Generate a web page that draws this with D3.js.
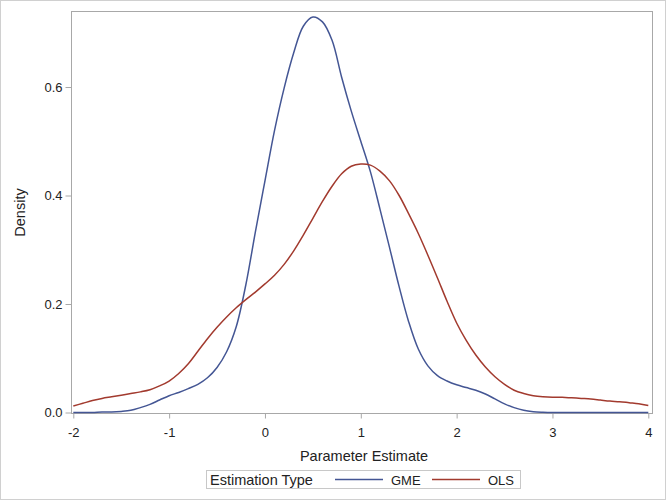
<!DOCTYPE html>
<html>
<head>
<meta charset="utf-8">
<script src="https://cdn.jsdelivr.net/npm/d3@7"></script>
<style>
  html, body { margin: 0; padding: 0; background: #fff; }
  svg { display: block; font-family: "Liberation Sans", Arial, sans-serif; }
</style>
</head>
<body>
<svg id="chart" width="666" height="500"></svg>
<script>
// Parameter estimate grid
const xGrid = [-2.0,-1.9,-1.8,-1.7,-1.6,-1.5,-1.4,-1.3,-1.2,-1.1,-1.0,-0.9,-0.8,-0.7,-0.6,-0.5,-0.4,-0.3,-0.2,-0.1,
  0.0,0.1,0.2,0.3,0.4,0.5,0.6,0.7,0.8,0.9,1.0,1.1,1.2,1.3,1.4,1.5,1.6,1.7,1.8,1.9,
  2.0,2.1,2.2,2.3,2.4,2.5,2.6,2.7,2.8,2.9,3.0,3.1,3.2,3.3,3.4,3.5,3.6,3.7,3.8,3.9,4.0];

// Density estimates
const gmeDensity = [0.000,0.000,0.000,0.001,0.001,0.002,0.004,0.009,0.015,0.023,0.031,0.037,0.044,0.052,0.064,0.083,0.112,0.158,0.235,0.333,
  0.427,0.520,0.598,0.663,0.712,0.729,0.720,0.686,0.618,0.556,0.500,0.444,0.375,0.304,0.232,0.167,0.117,0.086,0.068,0.058,
  0.051,0.046,0.041,0.034,0.025,0.016,0.009,0.004,0.0015,0.0005,0.000,0.000,0.000,0.000,0.000,0.000,0.000,0.000,0.000,0.000,0.000];

const olsDensity = [0.012,0.017,0.022,0.026,0.029,0.032,0.035,0.038,0.042,0.049,0.058,0.072,0.090,0.113,0.136,0.157,0.176,0.193,0.208,0.222,
  0.237,0.253,0.273,0.298,0.327,0.358,0.389,0.417,0.440,0.454,0.458,0.456,0.445,0.427,0.400,0.366,0.330,0.290,0.248,0.205,
  0.165,0.133,0.106,0.084,0.066,0.052,0.041,0.035,0.031,0.029,0.028,0.028,0.027,0.026,0.025,0.023,0.021,0.020,0.018,0.016,0.013];

const seriesNames = ["GME", "OLS"];
const seriesColors = ["#445694", "#A23A2E"];
const xTicks = [-2, -1, 0, 1, 2, 3, 4];
const yTicks = [0.0, 0.2, 0.4, 0.6];

const svg = d3.select("#chart");

// outer border
svg.append("rect").attr("x", 0.5).attr("y", 0.5).attr("width", 665).attr("height", 499)
  .attr("fill", "#fff").attr("stroke", "#d0d0d0");

const x = d3.scaleLinear().domain([-2, 4]).range([73.3, 648.3]);
const y = d3.scaleLinear().domain([0, 0.6]).range([412.5, 87]);

const frame = {x0: 71.5, x1: 652.5, y0: 11.5, y1: 413.5};

// plot frame
svg.append("rect").attr("x", frame.x0).attr("y", frame.y0)
  .attr("width", frame.x1 - frame.x0).attr("height", frame.y1 - frame.y0)
  .attr("fill", "none").attr("stroke", "#a8a8a8").attr("stroke-width", 1);

// x axis
const xAxis = svg.append("g").attr("transform", `translate(0,${frame.y1})`)
  .call(d3.axisBottom(x).tickValues(xTicks).tickFormat(d => String(d)).tickSize(5).tickPadding(9));
xAxis.select(".domain").remove();
xAxis.selectAll(".tick line").attr("stroke", "#a8a8a8");
xAxis.selectAll(".tick text").attr("font-size", "13px").attr("fill", "#222")
  .attr("font-family", "'Liberation Sans', Arial, sans-serif");

// y axis
const yAxis = svg.append("g").attr("transform", `translate(${frame.x0},0)`)
  .call(d3.axisLeft(y).tickValues(yTicks).tickFormat(d3.format(".1f")).tickSize(6).tickPadding(3));
yAxis.select(".domain").remove();
yAxis.selectAll(".tick line").attr("stroke", "#a8a8a8");
yAxis.selectAll(".tick text").attr("font-size", "13px").attr("fill", "#222")
  .attr("font-family", "'Liberation Sans', Arial, sans-serif");

// axis labels
svg.append("text").attr("x", (frame.x0 + frame.x1) / 2 + 2).attr("y", 461)
  .attr("text-anchor", "middle").attr("font-size", "14.5px").attr("fill", "#222")
  .text("Parameter Estimate");
svg.append("text").attr("transform", `translate(25,${(frame.y0 + frame.y1) / 2}) rotate(-90)`)
  .attr("text-anchor", "middle").attr("font-size", "14.5px").attr("fill", "#222")
  .text("Density");

// curves
const data = [gmeDensity, olsDensity];
const line = d3.line().x((d, i) => x(xGrid[i])).y(d => y(d)).curve(d3.curveCatmullRom.alpha(0.5));
data.forEach((vals, k) => {
  svg.append("path").datum(vals).attr("d", line)
    .attr("fill", "none").attr("stroke", seriesColors[k]).attr("stroke-width", 1.5);
});

// legend
const lg = svg.append("g");
lg.append("rect").attr("x", 206.5).attr("y", 470.5).attr("width", 314).attr("height", 18)
  .attr("fill", "#fff").attr("stroke", "#c8c8c8");
lg.append("text").attr("x", 210).attr("y", 484.5).attr("font-size", "14.5px").attr("fill", "#222")
  .text("Estimation Type");
const entryX = [335, 432];
seriesNames.forEach((name, k) => {
  lg.append("line").attr("x1", entryX[k]).attr("x2", entryX[k] + 48).attr("y1", 479.5).attr("y2", 479.5)
    .attr("stroke", seriesColors[k]).attr("stroke-width", 1.5);
  lg.append("text").attr("x", entryX[k] + 56).attr("y", 484.5).attr("font-size", "13px").attr("fill", "#222")
    .text(name);
});
</script>
</body>
</html>
